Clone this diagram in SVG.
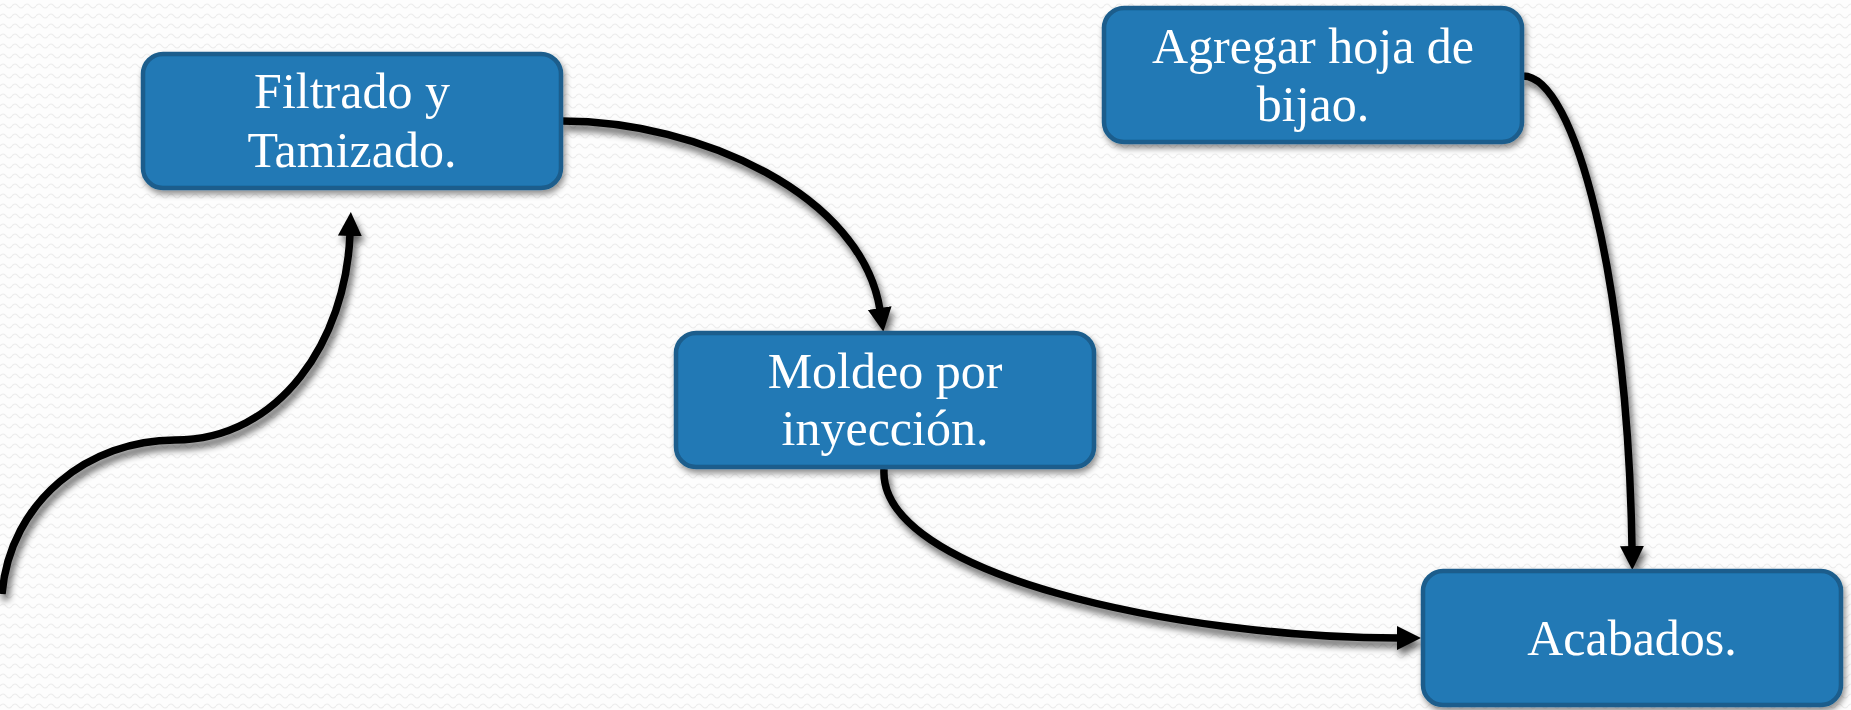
<svg xmlns="http://www.w3.org/2000/svg" width="1851" height="710" viewBox="0 0 1851 710">
  <defs>
    <pattern id="bgwave" x="0" y="0" width="12" height="10" patternUnits="userSpaceOnUse">
      <rect width="12" height="10" fill="#fdfdfd"/>
      <path d="M0,6 Q3,2 6,6 T12,6" fill="none" stroke="#ececec" stroke-width="1.2"/>
    </pattern>
    <filter id="shadow" x="-10%" y="-10%" width="130%" height="140%">
      <feGaussianBlur in="SourceAlpha" stdDeviation="3"/>
      <feOffset dx="2" dy="4" result="b"/>
      <feComponentTransfer><feFuncA type="linear" slope="0.45"/></feComponentTransfer>
      <feMerge><feMergeNode/><feMergeNode in="SourceGraphic"/></feMerge>
    </filter>
    <filter id="lshadow" x="-20%" y="-20%" width="140%" height="140%">
      <feGaussianBlur in="SourceAlpha" stdDeviation="3.5"/>
      <feOffset dx="3" dy="6" result="b"/>
      <feComponentTransfer><feFuncA type="linear" slope="0.6"/></feComponentTransfer>
      <feMerge><feMergeNode/><feMergeNode in="SourceGraphic"/></feMerge>
    </filter>
    <marker id="arrow" markerUnits="userSpaceOnUse" markerWidth="26" markerHeight="26" refX="2" refY="12" orient="auto" viewBox="0 0 26 24">
      <path d="M0,0 L24,12 L0,24 Z" fill="#000"/>
    </marker>
  </defs>
  <style>
    .box { fill: #2279b5; stroke: #1a5d8c; stroke-width: 4.5; }
    .label { font-family: "Liberation Serif", "Times New Roman", serif; font-size: 50px; fill: #ffffff; text-anchor: middle; }
    .conn { fill: none; stroke: #000; stroke-width: 7.5; marker-end: url(#arrow); }
  </style>
  <rect width="1851" height="710" fill="url(#bgwave)"/>

  <g id="connectors" filter="url(#lshadow)">
    <path class="conn" d="M2,594 C10,500 90,440 175,440 C280,440 346,340 350,234"/>
    <path class="conn" d="M562,121 C700,121 862,195 880,310"/>
    <path class="conn" d="M884,469 C878,575 1180,638 1399,638"/>
    <path class="conn" d="M1523,76 C1575,76 1628,280 1632,548"/>
  </g>

  <g id="node-filtrado" filter="url(#shadow)">
    <rect class="box" x="143" y="54" width="418" height="134" rx="20" ry="20"/>
    <text class="label" x="352" y="108">Filtrado y</text>
    <text class="label" x="352" y="167">Tamizado.</text>
  </g>

  <g id="node-agregar" filter="url(#shadow)">
    <rect class="box" x="1104" y="8" width="418" height="134" rx="20" ry="20"/>
    <text class="label" x="1313" y="63">Agregar hoja de</text>
    <text class="label" x="1313" y="121">bijao.</text>
  </g>

  <g id="node-moldeo" filter="url(#shadow)">
    <rect class="box" x="676" y="333" width="418" height="134" rx="20" ry="20"/>
    <text class="label" x="885" y="388">Moldeo por</text>
    <text class="label" x="885" y="445">inyección.</text>
  </g>

  <g id="node-acabados" filter="url(#shadow)">
    <rect class="box" x="1423" y="571" width="418" height="134" rx="20" ry="20"/>
    <text class="label" x="1632" y="655">Acabados.</text>
  </g>
</svg>
